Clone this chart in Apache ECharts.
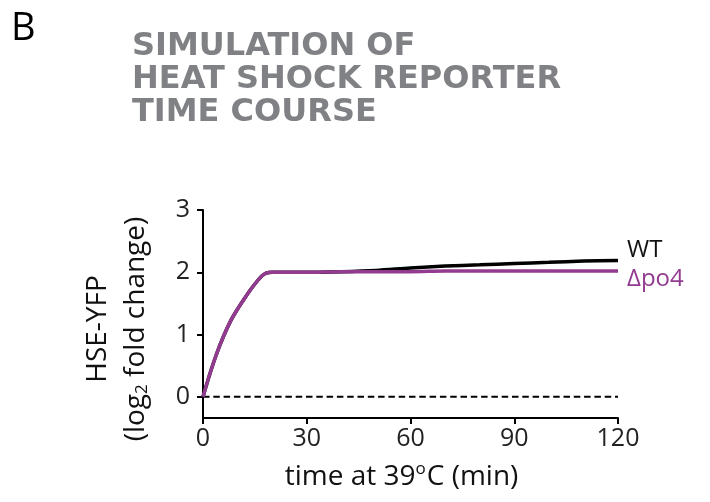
<!DOCTYPE html>
<html>
<head>
<meta charset="utf-8">
<script src="https://cdn.jsdelivr.net/npm/echarts@6/dist/echarts.min.js"></script>
<style>
  html, body { margin: 0; padding: 0; background: #fff; }
  #chart { width: 710px; height: 502px; }
</style>
</head>
<body>
<div id="chart"></div>
<script>
// time after shift to 39 C (min)
const timeMin = [0, 2, 4, 6, 8, 10, 12, 14, 16, 17, 18, 19, 20, 30, 40, 50, 60, 70, 80, 90, 100, 110, 120];
// simulated HSE-YFP, log2 fold change
const wtValues = [0, 0.37, 0.70, 0.98, 1.22, 1.41, 1.58, 1.74, 1.88, 1.94, 1.98, 1.995, 2.0, 2.0, 2.01, 2.03, 2.07, 2.10, 2.12, 2.14, 2.16, 2.18, 2.19];
const po4Values = [0, 0.37, 0.70, 0.98, 1.22, 1.41, 1.58, 1.74, 1.88, 1.94, 1.98, 1.995, 2.0, 2.0, 2.01, 2.01, 2.01, 2.02, 2.02, 2.02, 2.02, 2.02, 2.02];
const baseline = [[0, 0], [120, 0]];
const yTicks = [0, 1, 2, 3];

const font = "Open Sans";
const purple = "#933b90";

const pairs = (ys) => timeMin.map((t, i) => [t, ys[i]]);

const chart = echarts.init(document.getElementById("chart"));
chart.setOption({
  animation: false,
  title: [
    { text: "B", left: 11, top: 10, padding: 0,
      textStyle: { fontFamily: font, fontWeight: "normal", fontSize: 38, color: "#000" } },
    { text: "SIMULATION OF\nHEAT SHOCK REPORTER\nTIME COURSE", left: 132, top: 30, padding: 0,
      textStyle: { fontFamily: "DejaVu Sans", fontWeight: "bold", fontSize: 32, lineHeight: 33, color: "#808184" } }
  ],
  grid: { left: 203, right: 92, top: 210, bottom: 84, containLabel: false, outerBoundsMode: "none" },
  xAxis: {
    type: "value", min: 0, max: 120, interval: 30,
    name: "{n|time at 39}{s|o}{n|C (min)}",
    nameLocation: "middle", nameGap: 43,
    nameTextStyle: {
      padding: [0, 18, 0, 0],
      rich: {
        n: { fontFamily: font, fontSize: 28, color: "#111" },
        s: { fontFamily: font, fontSize: 17, color: "#111", padding: [0, 1, 15, 0] }
      }
    },
    axisLine: { onZero: false, lineStyle: { color: "#000", width: 2 } },
    axisTick: { length: 6, lineStyle: { color: "#000", width: 2 } },
    axisLabel: { margin: 8, fontFamily: font, fontSize: 25, color: "#222" },
    splitLine: { show: false }
  },
  yAxis: {
    type: "value", min: -0.34, max: 3,
    name: "{n|HSE-YFP}\n{n|(log}{b|2}{n| fold change)}",
    nameLocation: "middle", nameRotate: 90, nameGap: 48,
    nameTextStyle: {
      lineHeight: 38,
      padding: [0, 30, 0, 0],
      rich: {
        n: { fontFamily: font, fontSize: 28, color: "#111", lineHeight: 38 },
        b: { fontFamily: font, fontSize: 17, color: "#111", padding: [13, 0, 0, 0] }
      }
    },
    axisLine: { lineStyle: { color: "#000", width: 2 } },
    axisTick: { length: 6, customValues: yTicks, lineStyle: { color: "#000", width: 2 } },
    axisLabel: { margin: 13, customValues: yTicks, fontFamily: font, fontSize: 25, color: "#222" },
    splitLine: { show: false }
  },
  series: [
    {
      name: "baseline", type: "line", data: baseline, showSymbol: false, silent: true,
      lineStyle: { color: "#000", width: 2, type: [6.5, 3.8] }
    },
    {
      name: "WT", type: "line", data: pairs(wtValues), showSymbol: false, smooth: 0.3,
      lineStyle: { color: "#000", width: 3.5 },
      endLabel: { show: true, formatter: "WT", distance: 9, offset: [0, -10],
        fontFamily: font, fontSize: 24, color: "#111" }
    },
    {
      name: "Δpo4", type: "line", data: pairs(po4Values), showSymbol: false, smooth: 0.3,
      lineStyle: { color: purple, width: 3.5 },
      endLabel: { show: true, formatter: "Δpo4", distance: 9, offset: [0, 8],
        fontFamily: font, fontSize: 24, color: purple }
    }
  ]
});
</script>
</body>
</html>
